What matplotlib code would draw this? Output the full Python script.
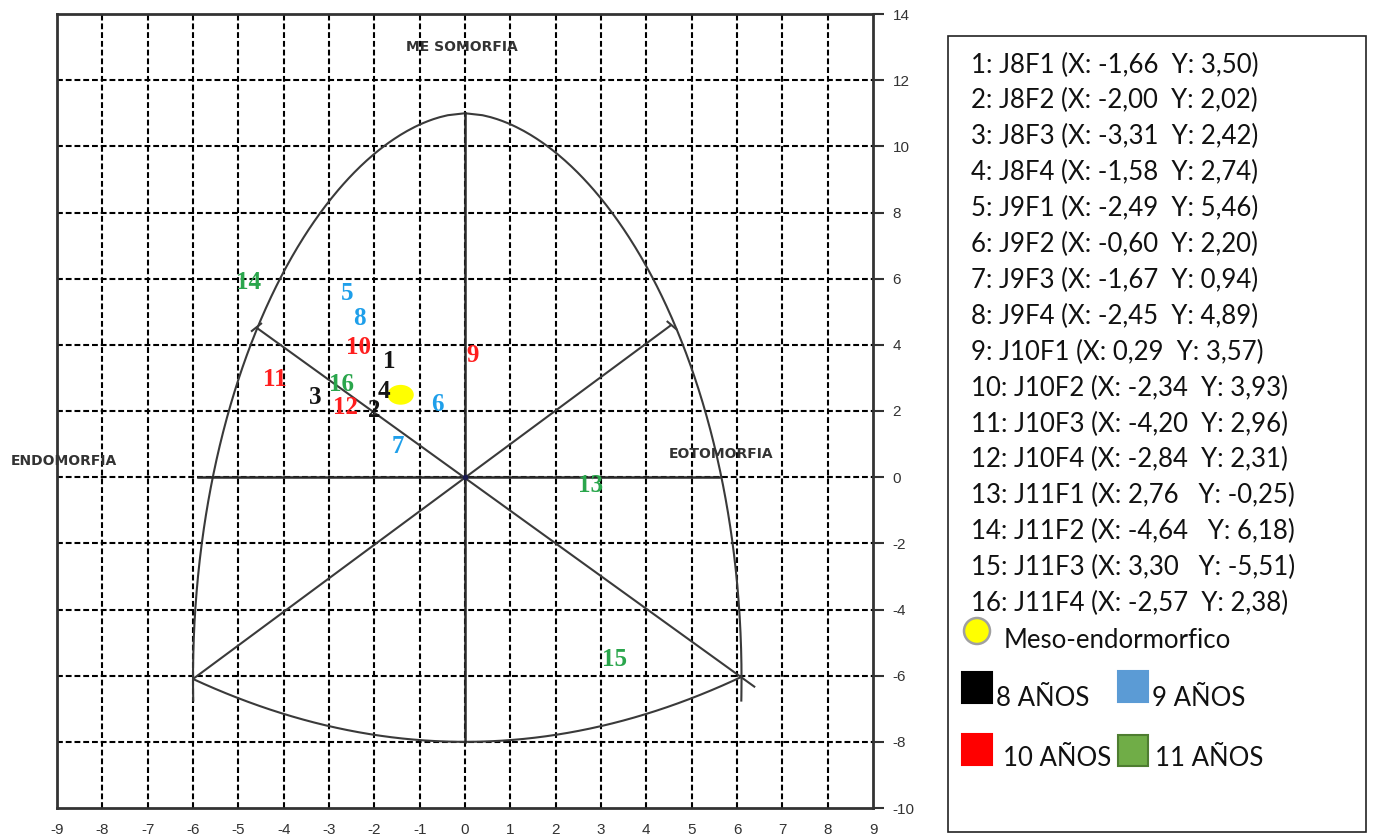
import numpy as np
import matplotlib
matplotlib.use("Agg")
import matplotlib.pyplot as plt
from matplotlib.patches import Rectangle, Circle, Ellipse

# ---------------- data ----------------
codes = ["J8F1", "J8F2", "J8F3", "J8F4", "J9F1", "J9F2", "J9F3", "J9F4",
         "J10F1", "J10F2", "J10F3", "J10F4", "J11F1", "J11F2", "J11F3", "J11F4"]
x_vals = [-1.66, -2.00, -3.31, -1.58, -2.49, -0.60, -1.67, -2.45,
          0.29, -2.34, -4.20, -2.84, 2.76, -4.64, 3.30, -2.57]
y_vals = [3.50, 2.02, 2.42, 2.74, 5.46, 2.20, 0.94, 4.89,
          3.57, 3.93, 2.96, 2.31, -0.25, 6.18, -5.51, 2.38]
ages = [8, 8, 8, 8, 9, 9, 9, 9, 10, 10, 10, 10, 11, 11, 11, 11]
mean_point = (-1.42, 2.49)
mean_label = "Meso-endormorfico"
age_labels = ["8 AÑOS", "9 AÑOS", "10 AÑOS", "11 AÑOS"]
x_ticks = list(range(-9, 10))
y_ticks = list(range(-10, 15, 2))

text_colors = {8: "#141414", 9: "#1E9FEA", 10: "#FF1E1E", 11: "#2AA64C"}
legend_colors = {8: ("#000000", "#000000"), 9: ("#5B9BD5", "#5B9BD5"),
                 10: ("#FF0000", "#FF0000"), 11: ("#70AD47", "#4E7D30")}
# small label nudges (layout only) so crowded numbers stay readable
label_nudge = {4: (-0.2, -0.15), 12: (0.2, -0.2), 16: (-0.15, 0.42),
               7: (0.18, 0.0), 14: (-0.14, -0.3), 9: (-0.12, 0.1),
               5: (-0.1, 0.1), 8: (0.12, -0.08)}

W, H = 1373, 839
fig = plt.figure(figsize=(W / 100, H / 100), dpi=100)

# ---------------- legend (pixel coordinates) ----------------
lax = fig.add_axes([0, 0, 1, 1])
lax.set_xlim(0, W)
lax.set_ylim(H, 0)
lax.axis("off")
lax.add_patch(Rectangle((948, 36), 418, 796, fill=False, edgecolor="#222222", lw=1.2))
lfont = dict(family=["Lato", "DejaVu Sans"], fontsize=18.5, color="#111111")
for i, (c, xv, yv) in enumerate(zip(codes, x_vals, y_vals)):
    sep = "   " if i in (12, 13, 14) else "  "
    s = f"{i+1}: {c} (X: {xv:.2f}{sep}Y: {yv:.2f})".replace(".", ",")
    lax.text(971, 65 + i * 35.9, s, va="center", ha="left", **lfont)
lax.add_patch(Circle((977, 631), 13, facecolor="#FFFF00", edgecolor="#A0A0A0", lw=1.8))
lax.text(1004, 640, mean_label, va="center", ha="left", **lfont)
sq_pos = [(962, 672, 996, 698), (1118, 671, 1152, 698),
          (962, 734, 1003, 758), (1118, 735, 1155, 758)]
for (sx, sy, tx, ty), age, lab in zip(sq_pos, [8, 9, 10, 11], age_labels):
    fc, ec = legend_colors[age]
    lax.add_patch(Rectangle((sx, sy), 30, 31, facecolor=fc, edgecolor=ec, lw=1.5))
    lax.text(tx, ty, lab, va="center", ha="left", **lfont)

# ---------------- somatochart ----------------
ax = fig.add_axes([57 / W, 1 - 808 / H, (873 - 57) / W, (808 - 14) / H])
ax.set_xlim(-9, 9)
ax.set_ylim(-10, 14)
ax.set_facecolor("none")

grid_kw = dict(color="black", lw=1.5, ls=(0, (2.8, 1.4)), zorder=1)
for v in range(-8, 9):
    ax.axvline(v, **grid_kw)
for v in range(-8, 13, 2):
    ax.axhline(v, **grid_kw)

line_kw = dict(color="#3a3a3a", lw=1.5, zorder=2, solid_capstyle="butt")
ytop, ypole = 11.0, -6.1
u = np.linspace(0, 1.04, 300)
yy = ytop - u * (ytop - ypole)
shape = np.clip(1 - (1 - u) ** 2, 0, None) ** (1 / 1.8)
ax.plot(-6.0 * shape, yy, **line_kw)
ax.plot(6.1 * shape, yy, **line_kw)
xb = np.linspace(-6.0, 6.1, 200)
ax.plot(xb, -8 + (8 + ypole) / 36 * xb ** 2, **line_kw)
ax.plot([0, 0], [-8, 11], color="#2a2a2a", lw=1.8, zorder=2)
ax.plot([-5.9, 5.6], [0, 0], color="#2a2a2a", lw=1.8, zorder=2)
ax.plot([-6.0, 4.55], [-6.1, 4.6], **line_kw)
ax.plot([-4.6, 6.4], [4.52, -6.35], **line_kw)
ax.plot([4.45, 4.68], [4.72, 4.45], **line_kw)
ax.plot([-4.72, -4.48], [4.4, 4.66], **line_kw)
ax.plot([0], [0], "o", ms=3, color="#1a1a50", zorder=3)

pole_font = dict(fontsize=10, fontweight="bold", color="#333333", family="DejaVu Sans")
ax.text(-0.07, 13.0, "ME SOMORFIA", ha="center", va="center", **pole_font)
ax.text(-10.03, 0.5, "ENDOMORFIA", ha="left", va="center", clip_on=False, **pole_font)
ax.text(4.5, 0.7, "EOTOMORFIA", ha="left", va="center", **pole_font)

for i, (xv, yv, a) in enumerate(zip(x_vals, y_vals, ages)):
    dx, dy = label_nudge.get(i + 1, (0.0, 0.0))
    ax.text(xv + dx, yv + dy, str(i + 1), ha="center", va="center", fontsize=18,
            fontweight="bold", color=text_colors[a], family="Liberation Serif", zorder=5)
ax.add_patch(Ellipse(mean_point, 0.58, 0.6, facecolor="#FFFF00", edgecolor="none", zorder=4))

ax.yaxis.tick_right()
ax.set_xticks(x_ticks)
ax.set_xticklabels([str(v) for v in x_ticks])
ax.set_yticks(y_ticks)
ax.set_yticklabels([str(v) for v in y_ticks])
ax.tick_params(axis="y", length=8, width=1.5, color="#333333", pad=6,
               labelsize=11, labelcolor="#333333")
ax.tick_params(axis="x", length=0, pad=11, labelsize=11, labelcolor="#333333")
for lab in ax.get_xticklabels() + ax.get_yticklabels():
    lab.set_family("Liberation Sans")
for sp in ax.spines.values():
    sp.set_color("#333333")
    sp.set_linewidth(2)

fig.savefig("out.png", dpi=100)
